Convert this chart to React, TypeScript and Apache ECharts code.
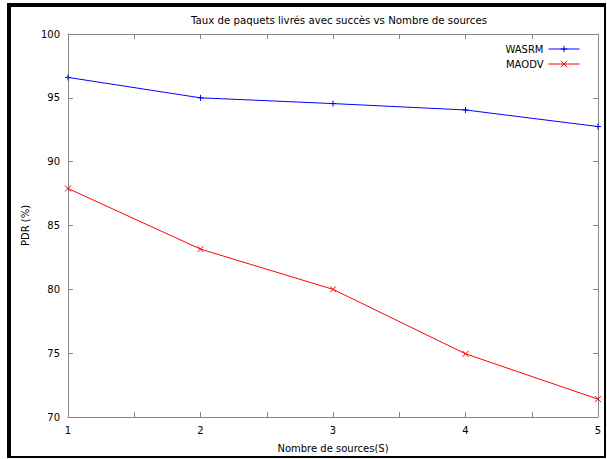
import React, { useEffect, useRef } from "react";
import * as echarts from "echarts";

const xValues = [1, 2, 3, 4, 5];
const wasrm = [96.6, 95.0, 94.55, 94.05, 92.75];
const maodv = [87.9, 83.15, 80.0, 74.95, 71.4];
const seriesNames = ["WASRM", "MAODV"];
const titleText = "Taux de paquets livrés avec succès vs Nombre de sources";
const xName = "Nombre de sources(S)";
const yName = "PDR (%)";

const FONT = "DejaVu Sans";
const FS = 10;
const plusSym = "path://M0,5L10,5M5,0L5,10";
const crossSym = "path://M0,0L10,10M10,0L0,10";

export default function App() {
  const ref = useRef<HTMLDivElement>(null);
  useEffect(() => {
    if (!ref.current) return;
    const chart = echarts.init(ref.current, undefined, { renderer: "svg" });
    const axisCol = "#888888";
    const baseX = {
      type: "value" as const,
      min: 1,
      max: 5,
      interval: 0.5,
      axisLine: { show: true, lineStyle: { color: axisCol, width: 1 } },
      axisTick: { show: true, inside: true, length: 5, lineStyle: { color: axisCol } },
      splitLine: { show: false },
    };
    const baseY = {
      type: "value" as const,
      min: 70,
      max: 100,
      interval: 5,
      axisLine: { show: true, lineStyle: { color: axisCol, width: 1 } },
      axisTick: { show: true, inside: true, length: 5, lineStyle: { color: axisCol } },
      splitLine: { show: false },
    };
    chart.setOption({
      animation: false,
      backgroundColor: "#ffffff",
      title: {
        text: titleText,
        left: 334,
        textAlign: "center",
        top: 10,
        textStyle: { fontFamily: FONT, fontSize: 10.2, fontWeight: "normal", color: "#000" },
      },
      legend: {
        data: seriesNames,
        orient: "vertical",
        right: 22,
        top: 39,
        align: "right",
        itemWidth: 31,
        itemHeight: 8,
        itemGap: 5,
        itemStyle: { borderWidth: 1 },
        lineStyle: { width: 1 },
        textStyle: { fontFamily: FONT, fontSize: FS, color: "#000", padding: [0, 0, 0, 0] },
      },
      grid: { left: 68, right: 9, top: 34, bottom: 42, containLabel: false },
      xAxis: [
        {
          ...baseX,
          position: "bottom",
          name: xName,
          nameLocation: "middle",
          nameGap: 26,
          nameTextStyle: { fontFamily: FONT, fontSize: FS, color: "#000" },
          axisLabel: {
            show: true,
            fontFamily: FONT,
            fontSize: FS,
            color: "#000",
            margin: 8,
            formatter: (v: number) => (Number.isInteger(v) ? String(v) : ""),
          },
        },
        { ...baseX, position: "top", axisLabel: { show: false } },
      ],
      yAxis: [
        {
          ...baseY,
          position: "left",
          name: yName,
          nameLocation: "middle",
          nameGap: 34,
          nameTextStyle: { fontFamily: FONT, fontSize: FS, color: "#000" },
          axisLabel: { show: true, fontFamily: FONT, fontSize: FS, color: "#000", margin: 8 },
        },
        { ...baseY, position: "right", axisLabel: { show: false } },
      ],
      graphic: [
        { type: "rect", shape: { x: 7, y: 3, width: 4, height: 455 }, style: { fill: "#000" } },
        { type: "rect", shape: { x: 7, y: 3, width: 599, height: 4 }, style: { fill: "#000" } },
        { type: "rect", shape: { x: 604, y: 3, width: 2, height: 455 }, style: { fill: "#000" } },
        { type: "rect", shape: { x: 7, y: 456, width: 599, height: 2 }, style: { fill: "#000" } },
      ],
      series: [
        {
          name: seriesNames[0],
          type: "line",
          data: xValues.map((x, i) => [x, wasrm[i]]),
          symbol: plusSym,
          symbolSize: 6,
          showAllSymbol: true,
          lineStyle: { color: "#0000ff", width: 1 },
          itemStyle: { color: "#0000ff", borderColor: "#0000ff", borderWidth: 1 },
        },
        {
          name: seriesNames[1],
          type: "line",
          data: xValues.map((x, i) => [x, maodv[i]]),
          symbol: crossSym,
          symbolSize: 6,
          showAllSymbol: true,
          lineStyle: { color: "#ff0000", width: 1 },
          itemStyle: { color: "#ff0000", borderColor: "#ff0000", borderWidth: 1 },
        },
      ],
    });
    return () => chart.dispose();
  }, []);
  return (
    <div
      ref={ref}
      style={{ position: "absolute", left: 0, top: 0, width: 607, height: 459 }}
    />
  );
}
